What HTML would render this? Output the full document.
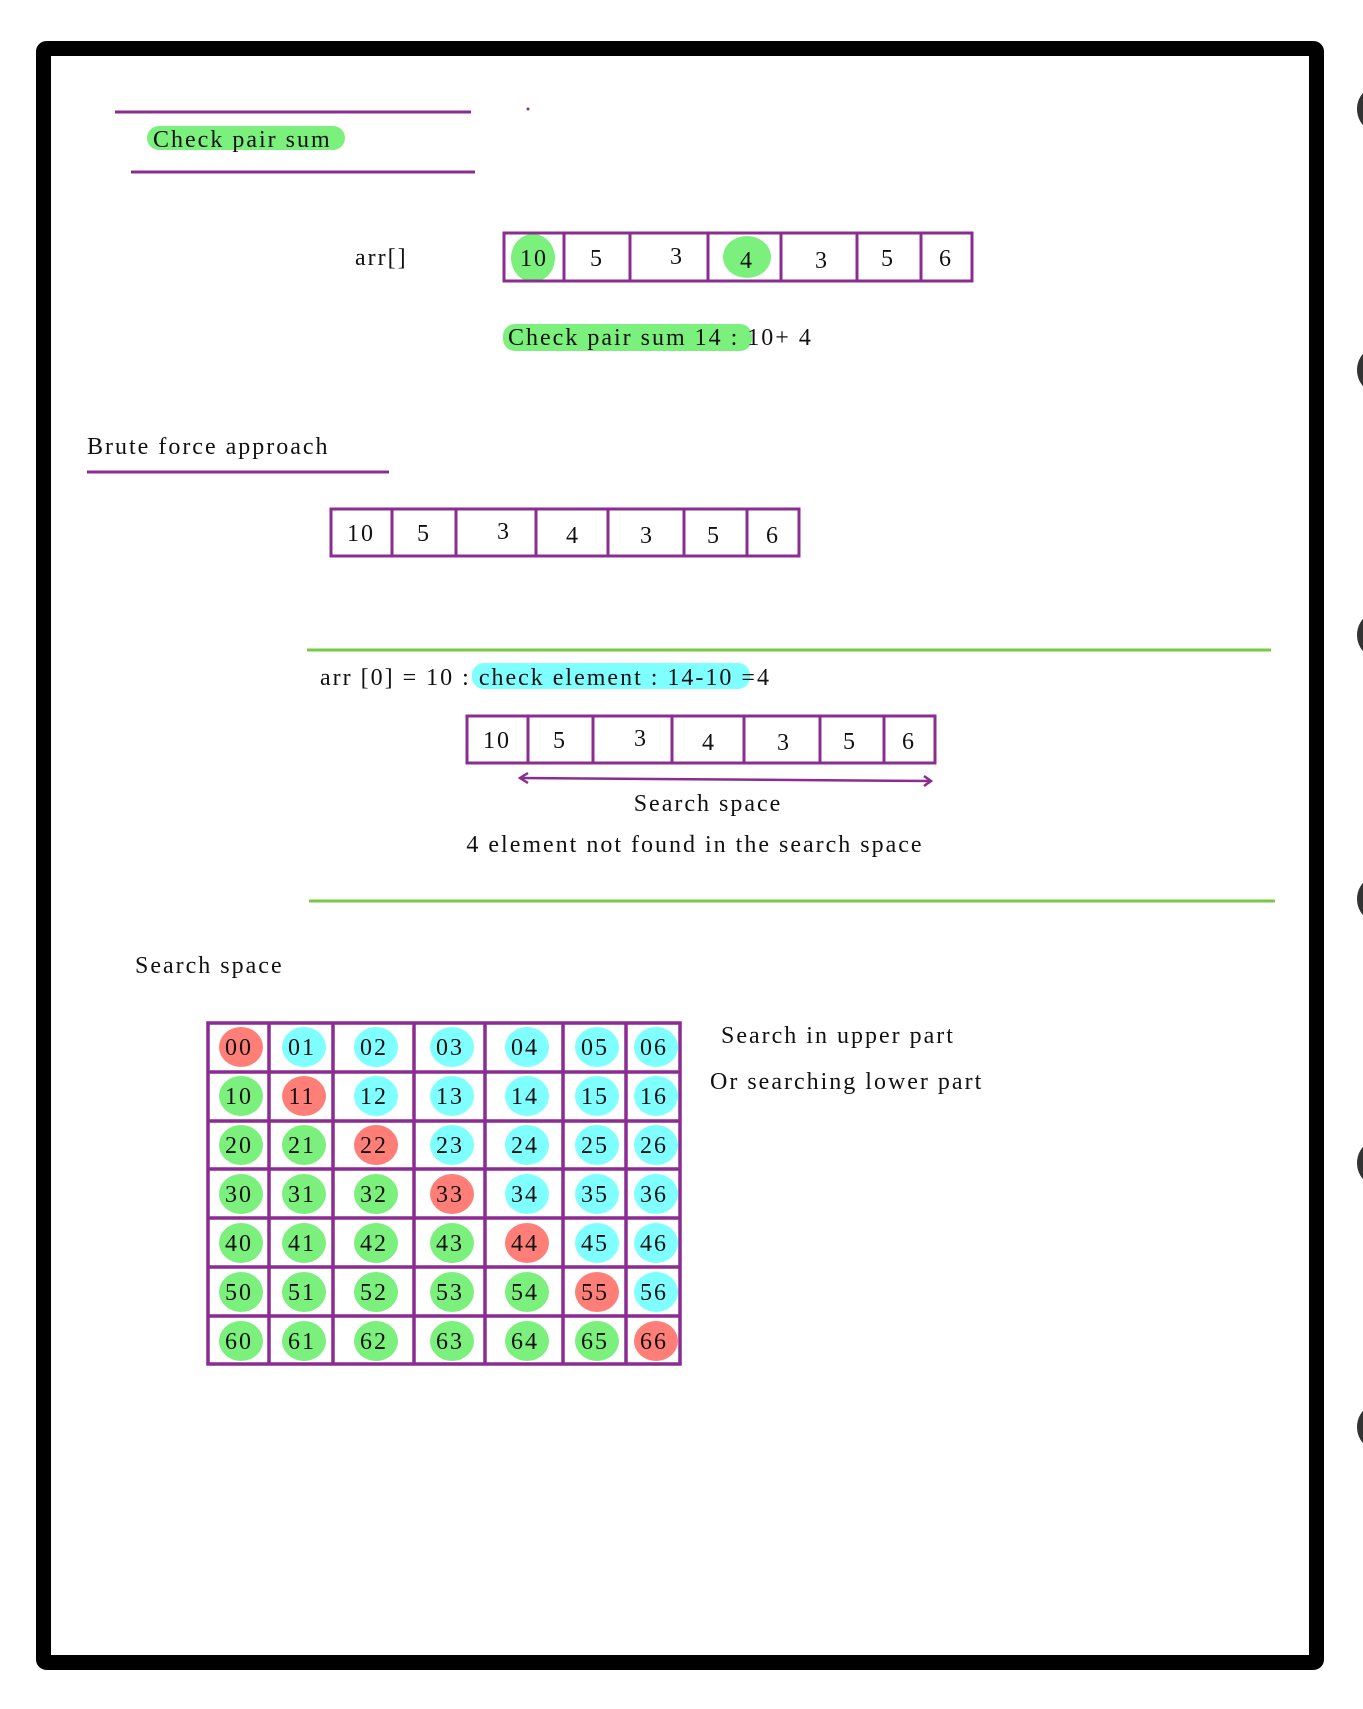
<!DOCTYPE html>
<html><head><meta charset="utf-8"><style>
html,body{margin:0;padding:0;background:#fff;}
svg{display:block;}
text{font-family:"Liberation Serif",serif;font-size:24px;fill:#111;letter-spacing:2px;}
</style></head><body>
<svg width="1363" height="1709" viewBox="0 0 1363 1709" xmlns="http://www.w3.org/2000/svg">
<rect x="43.5" y="48.5" width="1273" height="1614" fill="none" stroke="#000" stroke-width="15" rx="3"/>
<g fill="#333"><circle cx="1382" cy="109" r="25"/><circle cx="1382" cy="370" r="25"/><circle cx="1382" cy="635" r="25"/><circle cx="1382" cy="899" r="25"/><circle cx="1382" cy="1163" r="25"/><circle cx="1382" cy="1427" r="25"/></g>

<g stroke="#8B2C92" stroke-width="3" fill="none">
<line x1="115" y1="112" x2="471" y2="112"/>
<line x1="131" y1="172" x2="475" y2="172"/>
<line x1="87" y1="472" x2="389" y2="472"/>
</g>
<circle cx="528" cy="109" r="1.5" fill="#8B2C92"/>
<rect x="147" y="126" width="198" height="24" rx="12" fill="#7CF07C"/>
<text x="153" y="147">Check pair sum</text>

<text x="355" y="265">arr[]</text>
<ellipse cx="533" cy="258" rx="22" ry="24" fill="#7CF07C"/>
<ellipse cx="747" cy="257" rx="24" ry="21" fill="#7CF07C"/>
<g stroke="#8B2C92" stroke-width="3" fill="none">
<rect x="504" y="233" width="468" height="48"/>
<line x1="564" y1="233" x2="564" y2="281"/><line x1="630" y1="233" x2="630" y2="281"/><line x1="708" y1="233" x2="708" y2="281"/><line x1="781" y1="233" x2="781" y2="281"/><line x1="857" y1="233" x2="857" y2="281"/><line x1="921" y1="233" x2="921" y2="281"/>
</g>
<g text-anchor="middle"><text x="534" y="266">10</text><text x="597" y="266">5</text><text x="677" y="264">3</text><text x="747" y="268">4</text><text x="822" y="268">3</text><text x="888" y="266">5</text><text x="946" y="266">6</text></g>

<rect x="503" y="324" width="249" height="27" rx="12" fill="#7CF07C"/>
<text x="508" y="345">Check pair sum 14 : 10+ 4</text>

<text x="87" y="454">Brute force approach</text>
<g stroke="#8B2C92" stroke-width="3" fill="none">
<rect x="331" y="509" width="468" height="47"/>
<line x1="392" y1="509" x2="392" y2="556"/><line x1="456" y1="509" x2="456" y2="556"/><line x1="536" y1="509" x2="536" y2="556"/><line x1="608" y1="509" x2="608" y2="556"/><line x1="684" y1="509" x2="684" y2="556"/><line x1="747" y1="509" x2="747" y2="556"/>
</g>
<g text-anchor="middle"><text x="361" y="541">10</text><text x="424" y="541">5</text><text x="504" y="539">3</text><text x="573" y="543">4</text><text x="647" y="543">3</text><text x="714" y="543">5</text><text x="773" y="543">6</text></g>

<g stroke="#7AC943" stroke-width="3"><line x1="307" y1="650" x2="1271" y2="650"/><line x1="309" y1="901" x2="1275" y2="901"/></g>
<rect x="472" y="663" width="278" height="26" rx="12" fill="#7FFFFF"/>
<text x="320" y="685">arr [0] = 10 : check element : 14-10 =4</text>
<g stroke="#8B2C92" stroke-width="3" fill="none">
<rect x="467" y="716" width="468" height="47"/>
<line x1="528" y1="716" x2="528" y2="763"/><line x1="593" y1="716" x2="593" y2="763"/><line x1="672" y1="716" x2="672" y2="763"/><line x1="744" y1="716" x2="744" y2="763"/><line x1="820" y1="716" x2="820" y2="763"/><line x1="884" y1="716" x2="884" y2="763"/>
<line x1="520" y1="778" x2="931" y2="781" stroke-width="2.5"/>
<polyline points="528,773 520,778 528,783" stroke-width="2.5"/>
<polyline points="924,776 931,781 924,786" stroke-width="2.5"/>
</g>
<g text-anchor="middle"><text x="497" y="748">10</text><text x="560" y="748">5</text><text x="641" y="746">3</text><text x="709" y="750">4</text><text x="784" y="750">3</text><text x="850" y="749">5</text><text x="909" y="749">6</text>
<text x="708" y="811">Search space</text>
<text x="695" y="852">4 element not found in the search space</text></g>

<text x="135" y="973">Search space</text>
<text x="721" y="1043">Search in upper part</text>
<text x="710" y="1089">Or searching lower part</text>

<g id="blobs"></g>
<g stroke="#8B2C92" stroke-width="3.5" fill="none">
<rect x="208" y="1023" width="472" height="341"/>
<line x1="208" y1="1072" x2="680" y2="1072"/><line x1="208" y1="1121" x2="680" y2="1121"/><line x1="208" y1="1169" x2="680" y2="1169"/><line x1="208" y1="1218" x2="680" y2="1218"/><line x1="208" y1="1267" x2="680" y2="1267"/><line x1="208" y1="1316" x2="680" y2="1316"/>
<line x1="269" y1="1023" x2="269" y2="1364"/><line x1="333" y1="1023" x2="333" y2="1364"/><line x1="414" y1="1023" x2="414" y2="1364"/><line x1="485" y1="1023" x2="485" y2="1364"/><line x1="563" y1="1023" x2="563" y2="1364"/><line x1="626" y1="1023" x2="626" y2="1364"/>
</g>
<g id="gt" text-anchor="middle"></g>
<script>
var cx=[238,301,373,449,524,594,653];
var ns="http://www.w3.org/2000/svg";
var b=document.getElementById("blobs"),g=document.getElementById("gt");
for(var i=0;i<7;i++)for(var j=0;j<7;j++){
 var y=1047+i*49;
 var c=j>i?"#7FFFFF":(j==i?"#FF7F78":"#7CF07C");
 var e=document.createElementNS(ns,"ellipse");
 e.setAttribute("cx",cx[j]+3);e.setAttribute("cy",y);e.setAttribute("rx",22);e.setAttribute("ry",20);e.setAttribute("fill",c);
 b.appendChild(e);
 var t=document.createElementNS(ns,"text");
 t.setAttribute("x",cx[j]+1);t.setAttribute("y",y+8);t.textContent=""+i+j;
 g.appendChild(t);
}
</script>
</svg>
</body></html>
